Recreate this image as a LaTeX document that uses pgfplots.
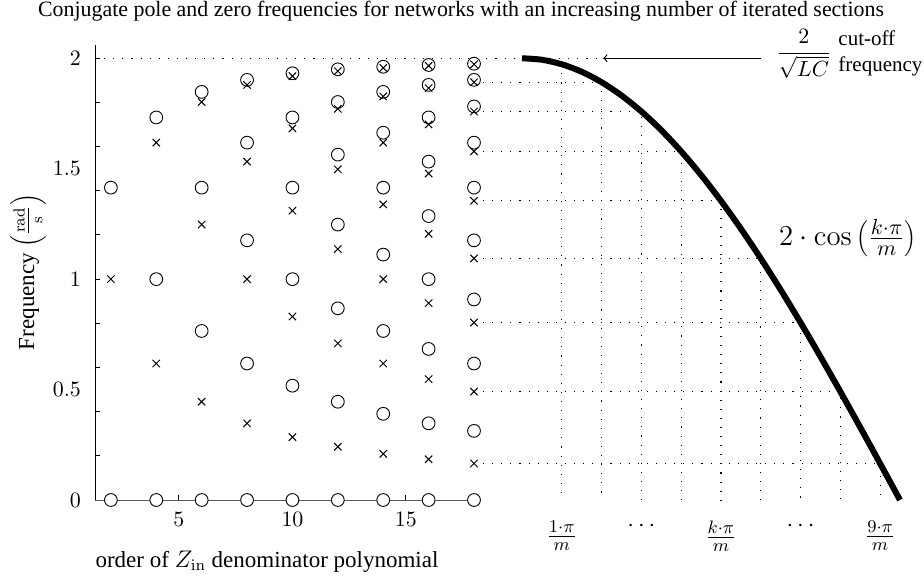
\documentclass[border=0pt]{standalone}
\usepackage[no-math]{fontspec}
\setmainfont{Liberation Serif}
\usepackage{pgfplots}
\pgfplotsset{compat=1.18}
\begin{document}
\begin{tikzpicture}
\useasboundingbox (0,0) rectangle (462pt,-289pt);
% ---------------- left axis: pole / zero frequencies ----------------
\begin{axis}[
  at={(47.5pt,-250pt)}, anchor=south west,
  scale only axis, width=189.5pt, height=227.5pt,
  xmin=1.3, xmax=18, ymin=0, ymax=2.06,
  axis x line=bottom, axis y line=left,
  axis line style={-, line width=0.5pt},
  every outer x axis line/.append style={-, black!65},
  every outer y axis line/.append style={-},
  xtick={5,10,15},
  ytick={0,0.5,1,1.5,2},
  yticklabels={$0$,$0.5$,$1$,$1.5$,$2$},
  minor ytick={0,0.2,0.4,0.6,0.8,1.0,1.2,1.4,1.6,1.8,2.0},
  major y tick style={draw=none},
  tick align=inside,
  major tick length=2.4pt, minor tick length=2.4pt,
  tick style={line width=0.5pt, black},
  tick label style={font=\fontsize{10.95}{13}\selectfont},
  yticklabel style={xshift=-3.5pt},
  xticklabel style={yshift=-2.5pt},
  clip=false,
]
\addplot[loosely dotted, line width=0.55pt] coordinates {(1.3,2) (23.68,2)};
\addplot[only marks, mark=*, mark size=3.2pt, mark options={fill=white, draw=black, line width=0.45pt}] coordinates {
 (2,1.4142) (2,0)
 (4,1.7321) (4,1) (4,0)
 (6,1.8478) (6,1.4142) (6,0.7654) (6,0)
 (8,1.9021) (8,1.6180) (8,1.1756) (8,0.6180) (8,0)
 (10,1.9319) (10,1.7321) (10,1.4142) (10,1) (10,0.5176) (10,0)
 (12,1.9499) (12,1.8019) (12,1.5637) (12,1.2470) (12,0.8678) (12,0.4450) (12,0)
 (14,1.9616) (14,1.8478) (14,1.6629) (14,1.4142) (14,1.1111) (14,0.7654) (14,0.3902) (14,0)
 (16,1.9696) (16,1.8794) (16,1.7321) (16,1.5321) (16,1.2856) (16,1) (16,0.6840) (16,0.3473) (16,0)
 (18,1.9754) (18,1.9021) (18,1.7820) (18,1.6180) (18,1.4142) (18,1.1756) (18,0.9080) (18,0.6180) (18,0.3129) (18,0)
};
\addplot[only marks, mark=x, mark size=2.6pt, mark options={draw=black, line width=0.5pt}] coordinates {
 (2,1)
 (4,1.6180) (4,0.6180)
 (6,1.8019) (6,1.2470) (6,0.4450)
 (8,1.8794) (8,1.5321) (8,1) (8,0.3473)
 (10,1.9190) (10,1.6825) (10,1.3097) (10,0.8308) (10,0.2846)
 (12,1.9419) (12,1.7709) (12,1.4970) (12,1.1361) (12,0.7092) (12,0.2411)
 (14,1.9563) (14,1.8271) (14,1.6180) (14,1.3383) (14,1) (14,0.6180) (14,0.2091)
 (16,1.9659) (16,1.8649) (16,1.7004) (16,1.4780) (16,1.2053) (16,0.8915) (16,0.5473) (16,0.1845)
 (18,1.9727) (18,1.8916) (18,1.7590) (18,1.5782) (18,1.3546) (18,1.0938) (18,0.8034) (18,0.4910) (18,0.1652)
};
\end{axis}
% ---------------- right axis: 2 cos(k pi / m), m = 19 ----------------
\begin{axis}[
  at={(261pt,-250pt)}, anchor=south west,
  scale only axis, width=189pt, height=227.5pt,
  xmin=0, xmax=9.5, ymin=0, ymax=2.06,
  axis line style={draw=none},
  ytick=\empty,
  xtick={1,3,5,7,9},
  xticklabels={$\frac{1\cdot\pi}{m}$,$\cdots$,$\frac{k\cdot\pi}{m}$,$\cdots$,$\frac{9\cdot\pi}{m}$},
  major tick length=0pt, tick style={draw=none},
  tick label style={font=\fontsize{12.5}{14}\selectfont},
  xticklabel style={yshift=-7pt},
  clip=false,
]
\addplot[loosely dotted, line width=0.55pt] coordinates {(1,1.9727) (1,0)};
\addplot[loosely dotted, line width=0.55pt] coordinates {(-0.98,1.8916) (2,1.8916) (2,0)};
\addplot[loosely dotted, line width=0.55pt] coordinates {(-0.98,1.7590) (3,1.7590) (3,0)};
\addplot[loosely dotted, line width=0.55pt] coordinates {(-0.98,1.5782) (4,1.5782) (4,0)};
\addplot[loosely dotted, line width=0.55pt] coordinates {(-0.98,1.3546) (5,1.3546) (5,0)};
\addplot[loosely dotted, line width=0.55pt] coordinates {(-0.98,1.0938) (6,1.0938) (6,0)};
\addplot[loosely dotted, line width=0.55pt] coordinates {(-0.98,0.8034) (7,0.8034) (7,0)};
\addplot[loosely dotted, line width=0.55pt] coordinates {(-0.98,0.4910) (8,0.4910) (8,0)};
\addplot[loosely dotted, line width=0.55pt] coordinates {(-0.98,0.1652) (9,0.1652) (9,0)};
\addplot[black, line width=3pt, smooth] coordinates {
 (0,2) (0.5,1.9932) (1,1.9727) (1.5,1.9388) (2,1.8916) (2.5,1.8315)
 (3,1.7589) (3.5,1.6743) (4,1.5783) (4.5,1.4714) (5,1.3546) (5.5,1.2284)
 (6,1.0939) (6.5,0.9519) (7,0.8034) (7.5,0.6494) (8,0.4910) (8.5,0.3292)
 (9,0.1652) (9.5,0)
};
\draw[<-, line width=0.55pt] (axis cs:2.04,2) -- (axis cs:6.0,2);
\node[anchor=west, inner sep=0pt, font=\fontsize{10.5}{13.2}\selectfont] at (axis cs:6.38,2.023)
  {$\displaystyle\frac{2}{\sqrt{LC}}$\hspace{3.5pt}\begin{tabular}{@{}l@{}}cut-off\\frequency\end{tabular}};
\node[font=\fontsize{15.5}{18}\selectfont] at (axis cs:8.19,1.186)
  {$2\cdot\cos\left(\frac{k\cdot\pi}{m}\right)$};
\end{axis}
% ---------------- title and axis labels ----------------
\node[anchor=base, font=\fontsize{10.95}{13}\selectfont] at (230.5pt,-8.5pt)
  {Conjugate pole and zero frequencies for networks with an increasing number of iterated sections};
\node[anchor=base, font=\fontsize{11.5}{14}\selectfont] at (133.5pt,-283.5pt)
  {order of $Z_{\mathrm{in}}$ denominator polynomial};
\node[rotate=90, inner sep=0pt, font=\fontsize{11.5}{14}\selectfont] at (14pt,-136pt)
  {Frequency $\left(\frac{\mathrm{rad}}{\mathrm{s}}\right)$};
\end{tikzpicture}
\end{document}
